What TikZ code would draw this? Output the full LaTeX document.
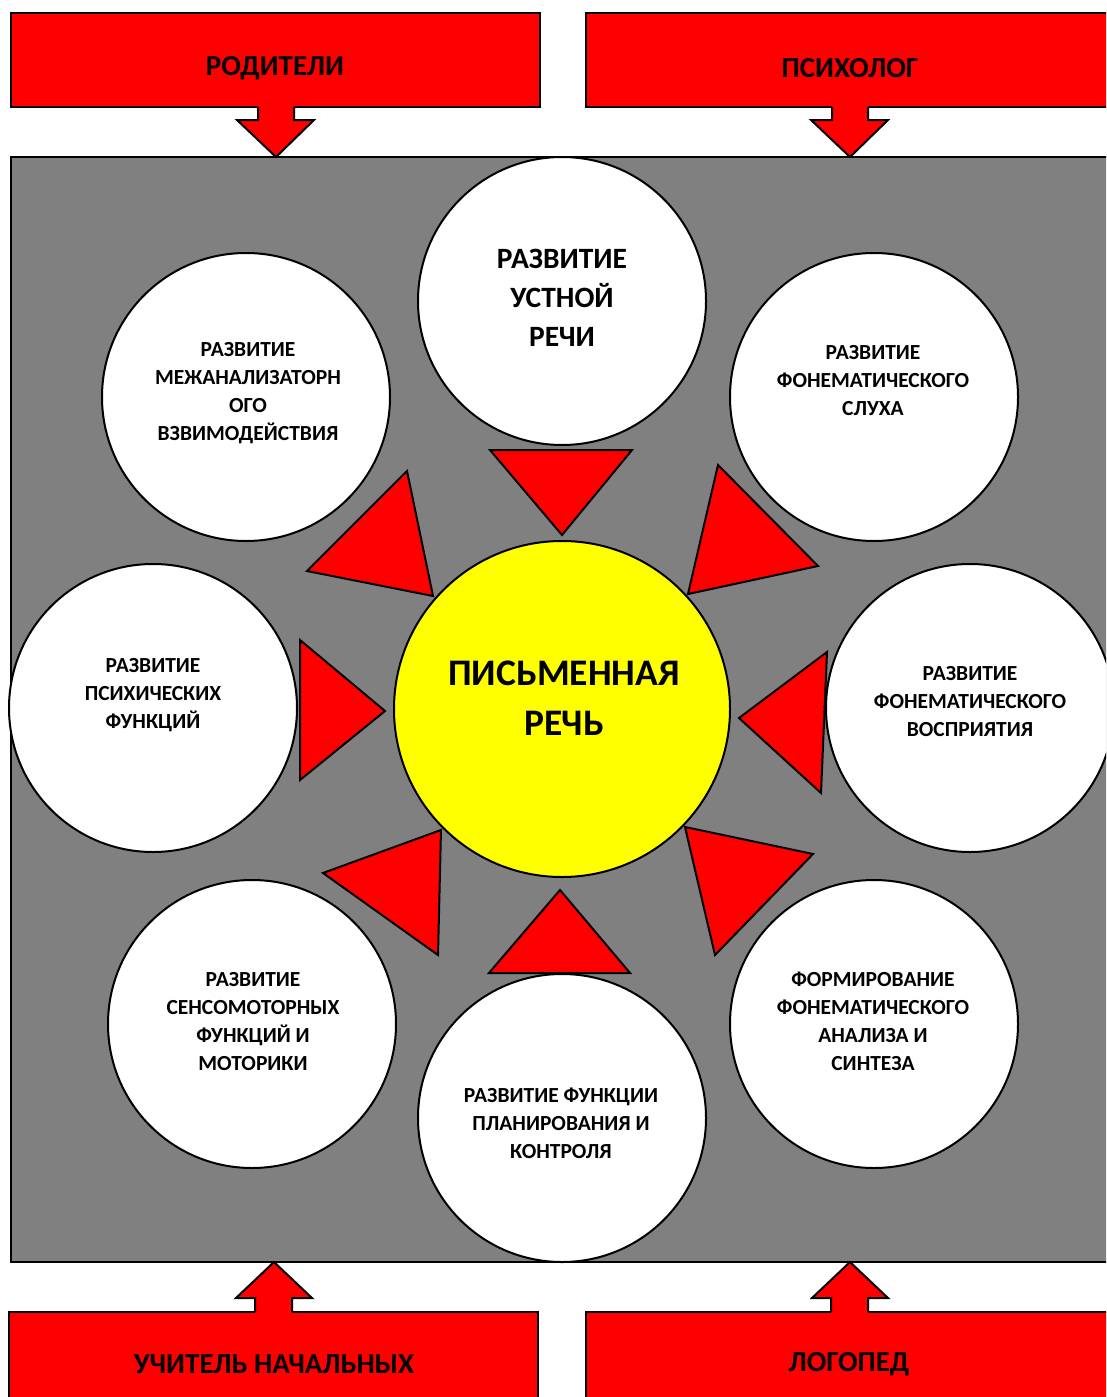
\documentclass[tikz,border=0pt]{standalone}
\usepackage{fontspec}
\setmainfont{Carlito}
\definecolor{myred}{RGB}{255,0,0}
\definecolor{mygray}{RGB}{128,128,128}
\definecolor{myyellow}{RGB}{255,255,0}
\begin{document}
\begin{tikzpicture}[x=1pt,y=-1pt,
  outline/.style={draw=black, line width=2pt, line join=miter},
  bubble/.style={circle, draw=black, line width=2pt, fill=white, minimum size=288pt, inner sep=0pt},
  core/.style={circle, draw=black, line width=2pt, fill=myyellow, minimum size=336pt, inner sep=0pt},
  wedge/.style={draw=black, line width=2pt, fill=myred, line join=miter},
  rolebox/.style={draw=black, line width=2pt, fill=myred},
  smalltxt/.style={font=\bfseries\fontsize{21.5}{28}\selectfont, align=center, text=black, inner sep=0pt},
  midtxt/.style={font=\bfseries\fontsize{29.5}{39}\selectfont, align=center, text=black, inner sep=0pt},
  bigtxt/.style={font=\bfseries\fontsize{37.5}{50}\selectfont, align=center, text=black, inner sep=0pt},
  roletxt/.style={font=\bfseries\fontsize{29}{30}\selectfont, text=black, inner sep=0pt}
]
\useasboundingbox (0,0) rectangle (1106,1397);
\clip (0,0) rectangle (1106,1397);
\fill[white] (0,0) rectangle (1106,1397);

% gray field
\draw[outline, fill=mygray] (11,157) rectangle (1120,1262);

% circles
\node[bubble] (top) at (562,301) {};
\node[bubble] (tl) at (246,397) {};
\node[bubble] (tr) at (874,397) {};
\node[bubble] (lf) at (153,708) {};
\node[bubble] (rt) at (970,708) {};
\node[bubble] (bl) at (252,1024) {};
\node[bubble] (bt) at (562,1118) {};
\node[bubble] (br) at (874,1024) {};
\node[core] (center) at (562,709) {};

% texts
\node[midtxt] (ttop) at (562,298) {РАЗВИТИЕ\\УСТНОЙ\\РЕЧИ};
\node[smalltxt] (ttl) at (248,393) {РАЗВИТИЕ\\МЕЖАНАЛИЗАТОРН\\ОГО\\ВЗВИМОДЕЙСТВИЯ};
\node[smalltxt] (ttr) at (873,381) {РАЗВИТИЕ\\ФОНЕМАТИЧЕСКОГО\\СЛУХА};
\node[smalltxt] (tlf) at (153,695) {РАЗВИТИЕ\\ПСИХИЧЕСКИХ\\ФУНКЦИЙ};
\node[smalltxt] (trt) at (970,702) {РАЗВИТИЕ\\ФОНЕМАТИЧЕСКОГО\\ВОСПРИЯТИЯ};
\node[smalltxt] (tbl) at (253,1022) {РАЗВИТИЕ\\СЕНСОМОТОРНЫХ\\ФУНКЦИЙ И\\МОТОРИКИ};
\node[smalltxt] (tbt) at (561,1123) {РАЗВИТИЕ ФУНКЦИИ\\ПЛАНИРОВАНИЯ И\\КОНТРОЛЯ};
\node[smalltxt] (tbr) at (873,1021) {ФОРМИРОВАНИЕ\\ФОНЕМАТИЧЕСКОГО\\АНАЛИЗА И\\СИНТЕЗА};
\node[bigtxt] (tcenter) at (564,698) {ПИСЬМЕННАЯ\\РЕЧЬ};

% triangles pointing to the centre
\draw[wedge] (490,450) -- (632,450) -- (562,535) -- cycle;
\draw[wedge] (307,571) -- (407,471) -- (433,596) -- cycle;
\draw[wedge] (718,465) -- (818,566) -- (688,594) -- cycle;
\draw[wedge] (300,640) -- (300,780) -- (385,711) -- cycle;
\draw[wedge] (827,652) -- (821,793) -- (739,718) -- cycle;
\draw[wedge] (323,873) -- (441,830) -- (438,955) -- cycle;
\draw[wedge] (489,973) -- (630,973) -- (560,890) -- cycle;
\draw[wedge] (685,827) -- (813,854) -- (715,955) -- cycle;

% role boxes
\draw[rolebox] (11,13) rectangle (540,107);
\node[roletxt] (par) at (275,68) {РОДИТЕЛИ};
\draw[rolebox] (586,13) rectangle (1120,107);
\node[roletxt] (psy) at (850,68) {ПСИХОЛОГ};
\draw[rolebox] (9,1312) rectangle (538,1420);
\node[roletxt] (tea) at (274,1364) {УЧИТЕЛЬ НАЧАЛЬНЫХ};
\draw[rolebox] (586,1312) rectangle (1120,1420);
\node[roletxt] (log) at (849,1364) {ЛОГОПЕД};

% block arrows
\foreach \cx in {276,850}{
  \fill[myred] (\cx-18,105) -- (\cx-18,120) -- (\cx-39,120) -- (\cx,157) -- (\cx+38,120) -- (\cx+18,120) -- (\cx+18,105) -- cycle;
  \draw[outline] (\cx-18,107) -- (\cx-18,120) -- (\cx-39,120) -- (\cx,157) -- (\cx+38,120) -- (\cx+18,120) -- (\cx+18,107);
}
\foreach \cx in {274,850}{
  \fill[myred] (\cx-19,1314) -- (\cx-19,1298) -- (\cx-38,1298) -- (\cx,1262) -- (\cx+38,1298) -- (\cx+18,1298) -- (\cx+18,1314) -- cycle;
  \draw[outline] (\cx-19,1312) -- (\cx-19,1298) -- (\cx-38,1298) -- (\cx,1262) -- (\cx+38,1298) -- (\cx+18,1298) -- (\cx+18,1312);
}
\end{tikzpicture}
\end{document}
